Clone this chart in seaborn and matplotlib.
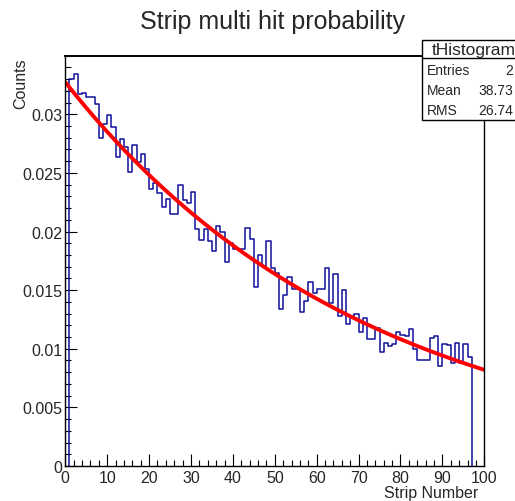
import numpy as np
import pandas as pd
import matplotlib
matplotlib.use("Agg")
import matplotlib.pyplot as plt
import seaborn as sns
from matplotlib.patches import Rectangle
from matplotlib.lines import Line2D
from matplotlib.ticker import MultipleLocator

# one bin per strip, strips 1..96
strip_numbers = list(range(1, 97))
hit_probability = [
    0.0330, 0.0334, 0.0317, 0.0318, 0.0315, 0.0315, 0.0309, 0.0280, 0.0292, 0.0299,  # 1-10
    0.0289, 0.0264, 0.0279, 0.0272, 0.0251, 0.0274, 0.0259, 0.0266, 0.0253, 0.0236,  # 11-20
    0.0241, 0.0233, 0.0221, 0.0228, 0.0215, 0.0215, 0.0240, 0.0227, 0.0224, 0.0234,  # 21-30
    0.0202, 0.0193, 0.0202, 0.0192, 0.0183, 0.0205, 0.0200, 0.0174, 0.0190, 0.0185,  # 31-40
    0.0185, 0.0185, 0.0203, 0.0194, 0.0153, 0.0180, 0.0171, 0.0192, 0.0169, 0.0165,  # 41-50
    0.0134, 0.0146, 0.0161, 0.0151, 0.0151, 0.0131, 0.0141, 0.0157, 0.0148, 0.0151,  # 51-60
    0.0151, 0.0169, 0.0139, 0.0164, 0.0128, 0.0150, 0.0121, 0.0128, 0.0130, 0.0114,  # 61-70
    0.0126, 0.0108, 0.0108, 0.0118, 0.0097, 0.0105, 0.0102, 0.0104, 0.0114, 0.0112,  # 71-80
    0.0111, 0.0117, 0.0100, 0.0090, 0.0090, 0.0090, 0.0109, 0.0111, 0.0085, 0.0104,  # 81-90
    0.0103, 0.0088, 0.0105, 0.0088, 0.0104, 0.0093,                                  # 91-96
]

# exponential fit exp(p0 + p1*x)
fit_p0 = -3.419
fit_p1 = -0.013845
fit_range = (0, 100)

yticks = [0, 0.005, 0.01, 0.015, 0.02, 0.025, 0.03]
ytick_labels = ["0", "0.005", "0.01", "0.015", "0.02", "0.025", "0.03"]
xticks = [0, 10, 20, 30, 40, 50, 60, 70, 80, 90, 100]

stats_title = "tHistogram"
stats_names = ["Entries", "Mean", "RMS"]
stats_values = ["2", "38.73", "26.74"]

sns.set_style("white")
plt.rcParams["font.family"] = ["Liberation Sans", "DejaVu Sans"]

W, H = 515, 502
fig = plt.figure(figsize=(W / 100, H / 100), dpi=100)
ax = fig.add_axes([65.3 / W, 1 - 467 / H, (484.3 - 65.3) / W, (467 - 56.7) / H])

df = pd.DataFrame({"strip": strip_numbers, "prob": hit_probability})
lo, hi = strip_numbers[0], strip_numbers[-1] + 1
sns.histplot(data=df, x="strip", weights="prob", binwidth=1, binrange=(lo, hi),
             element="step", fill=False, color="#10109a", linewidth=1.1, ax=ax)
# close the outline down to zero at both ends like ROOT does
ax.vlines([lo, hi], 0, [hit_probability[0], hit_probability[-1]],
          color="#10109a", linewidth=1.1)

fit_x = np.linspace(fit_range[0], fit_range[1], 300)
fit_y = np.exp(fit_p0 + fit_p1 * fit_x)
sns.lineplot(x=fit_x, y=fit_y, color="#ff0000", linewidth=2.8, ax=ax)

ax.set_xlim(0, 100)
ax.set_ylim(0, 0.035)
ax.set_xlabel("")
ax.set_ylabel("")
ax.set_xticks(xticks)
ax.xaxis.set_minor_locator(MultipleLocator(2))
ax.set_yticks(yticks)
ax.set_yticklabels(ytick_labels)
ax.yaxis.set_minor_locator(MultipleLocator(0.001))
ax.tick_params(which="both", direction="in", bottom=True, left=True,
               top=False, right=False, color="black", width=0.8)
ax.tick_params(which="major", length=8.5, labelsize=11.5)
ax.tick_params(which="minor", length=4.2)
ax.tick_params(axis="y", which="major", pad=2)
ax.tick_params(axis="x", which="major", pad=3)
for s in ax.spines.values():
    s.set_visible(True)
    s.set_color("black")
    s.set_linewidth(1.0)
ax.spines["top"].set_linewidth(1.4)

fig.text(272 / W, 1 - 22 / H, "Strip multi hit probability", ha="center",
         va="center", fontsize=18)
fig.text(21 / W, 1 - 58 / H, "Counts", rotation=90, ha="center", va="top",
         fontsize=11.5)
fig.text(478.3 / W, 1 - 486 / H, "Strip Number", ha="right", va="top",
         fontsize=11.5)

# stats box, runs past the right edge of the canvas
bx, btop, bbot, bsep = 422.3, 41, 120.7, 59.3
fig.add_artist(Rectangle((bx / W, 1 - bbot / H), 0.3, (bbot - btop) / H,
                         transform=fig.transFigure, facecolor="white",
                         edgecolor="black", linewidth=1.0, zorder=5))
fig.add_artist(Line2D([bx / W, 1.3], [1 - bsep / H] * 2, transform=fig.transFigure,
                      color="black", linewidth=1.0, zorder=6))
fig.text(431.5 / W, 1 - 50 / H, stats_title, ha="left", va="center",
         fontsize=12.5, zorder=7)
for i, (name, val) in enumerate(zip(stats_names, stats_values)):
    y = 70.7 + 20 * i
    fig.text(427.3 / W, 1 - y / H, name, ha="left", va="center", fontsize=10, zorder=7)
    fig.text(513.5 / W, 1 - y / H, val, ha="right", va="center", fontsize=10, zorder=7)

fig.savefig("out.png", dpi=100)
plt.close(fig)
